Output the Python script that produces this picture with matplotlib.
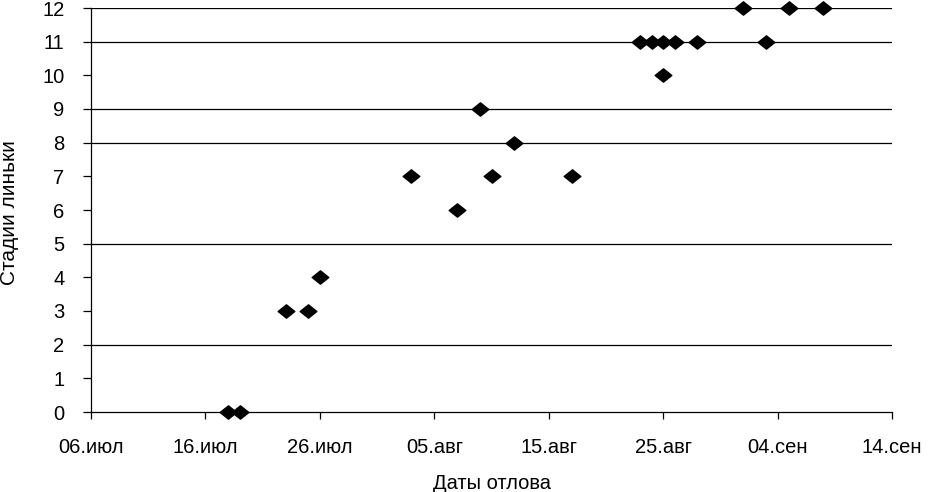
import datetime as dt
import matplotlib
matplotlib.use("Agg")
import matplotlib.pyplot as plt
import matplotlib.dates as mdates
from matplotlib.path import Path

plt.rcParams['font.family'] = ['Liberation Sans', 'DejaVu Sans']

# Data
capture_dates = ['2000-07-18', '2000-07-19', '2000-07-23', '2000-07-25', '2000-07-26',
                 '2000-08-03', '2000-08-07', '2000-08-09', '2000-08-10', '2000-08-12',
                 '2000-08-17', '2000-08-23', '2000-08-24', '2000-08-25', '2000-08-25',
                 '2000-08-26', '2000-08-28', '2000-09-01', '2000-09-03', '2000-09-05',
                 '2000-09-08']
molt_stage = [0, 0, 3, 3, 4, 7, 6, 9, 7, 8, 7, 11, 11, 11, 10, 11, 11, 12, 11, 12, 12]

tick_dates = ['2000-07-06', '2000-07-16', '2000-07-26', '2000-08-05',
              '2000-08-15', '2000-08-25', '2000-09-04', '2000-09-14']
tick_labels = ['06.июл', '16.июл', '26.июл', '05.авг', '15.авг', '25.авг', '04.сен', '14.сен']
y_ticks = list(range(0, 13))
grid_levels = [2, 5, 8, 9, 11, 12]

xlabel = 'Даты отлова'
ylabel = 'Стадии линьки'

to_num = lambda s: mdates.date2num(dt.datetime.strptime(s, '%Y-%m-%d'))
x = [to_num(s) for s in capture_dates]
xt = [to_num(s) for s in tick_dates]

fig = plt.figure(figsize=(9.3, 4.92), dpi=100)
ax = fig.add_axes([91/930, 80/492, (892-91)/930, (412-8)/492])

for g in grid_levels:
    ax.axhline(g, color='black', linewidth=0.9, zorder=1)

diamond = Path([(-1, 0), (0, 0.8), (1, 0), (0, -0.8), (-1, 0)],
               [Path.MOVETO, Path.LINETO, Path.LINETO, Path.LINETO, Path.CLOSEPOLY])
ax.plot(x, molt_stage, linestyle='none', marker=diamond, markersize=12,
        color='black', clip_on=False, zorder=3)

ax.set_xlim(xt[0], xt[-1])
ax.set_ylim(0, 12)
ax.set_xticks(xt)
ax.set_xticklabels(tick_labels)
ax.set_yticks(y_ticks)

for s in ['top', 'right']:
    ax.spines[s].set_visible(False)
for s in ['left', 'bottom']:
    ax.spines[s].set_color('black')
    ax.spines[s].set_linewidth(0.9)

ax.tick_params(axis='y', direction='out', length=6, width=0.9, pad=13, labelsize=14.5)
ax.tick_params(axis='x', direction='out', length=5, width=0.9, pad=14, labelsize=14.5)

ax.set_xlabel(xlabel, fontsize=14.5, labelpad=12)
ax.set_ylabel(ylabel, fontsize=15, va='center')
ax.yaxis.set_label_coords((10 - 91) / 801, (412 - 213) / 404)

fig.savefig('out.png', dpi=100)
